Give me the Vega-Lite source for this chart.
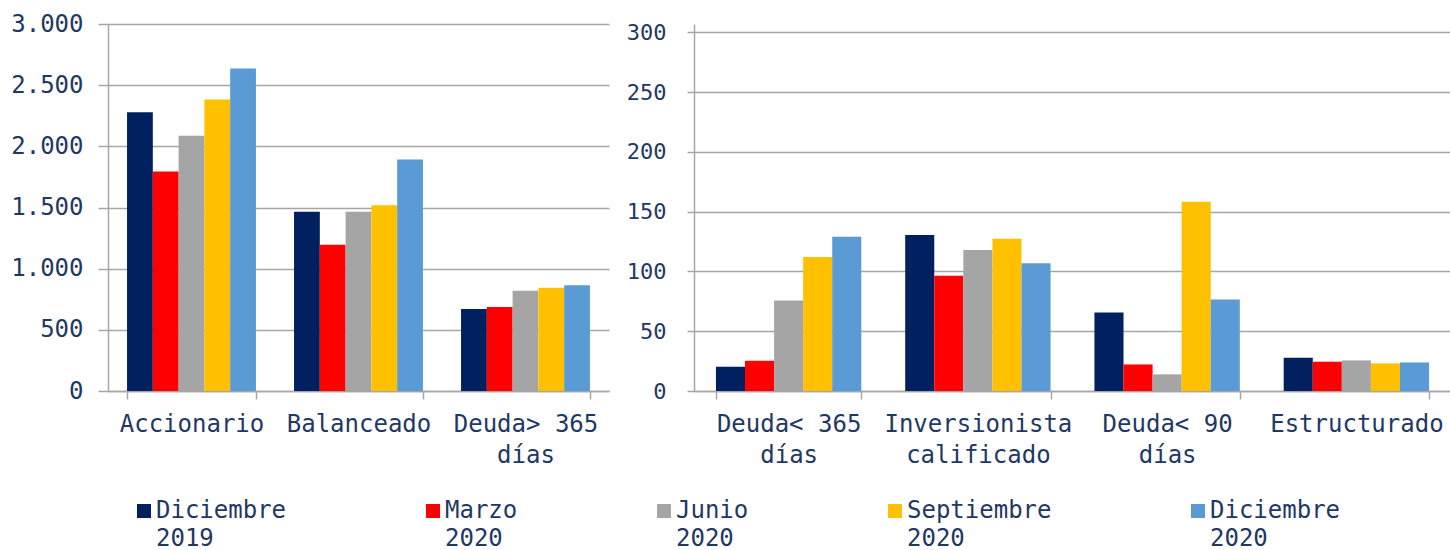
{
  "$schema": "https://vega.github.io/schema/vega-lite/v6.json",
  "padding": {"left": 10, "top": 12, "right": 0, "bottom": 0},
  "background": "white",
  "spacing": 17,
  "datasets": {
    "izq": [
      {"categoria": "Accionario", "serie": "Diciembre 2019", "valor": 2278},
      {"categoria": "Accionario", "serie": "Marzo 2020", "valor": 1794},
      {"categoria": "Accionario", "serie": "Junio 2020", "valor": 2086},
      {"categoria": "Accionario", "serie": "Septiembre 2020", "valor": 2382},
      {"categoria": "Accionario", "serie": "Diciembre 2020", "valor": 2636},
      {"categoria": "Balanceado", "serie": "Diciembre 2019", "valor": 1466},
      {"categoria": "Balanceado", "serie": "Marzo 2020", "valor": 1195},
      {"categoria": "Balanceado", "serie": "Junio 2020", "valor": 1466},
      {"categoria": "Balanceado", "serie": "Septiembre 2020", "valor": 1518},
      {"categoria": "Balanceado", "serie": "Diciembre 2020", "valor": 1892},
      {"categoria": "Deuda> 365 días", "serie": "Diciembre 2019", "valor": 670},
      {"categoria": "Deuda> 365 días", "serie": "Marzo 2020", "valor": 686},
      {"categoria": "Deuda> 365 días", "serie": "Junio 2020", "valor": 820},
      {"categoria": "Deuda> 365 días", "serie": "Septiembre 2020", "valor": 845},
      {"categoria": "Deuda> 365 días", "serie": "Diciembre 2020", "valor": 864}
    ],
    "der": [
      {"categoria": "Deuda< 365 días", "serie": "Diciembre 2019", "valor": 20.3},
      {"categoria": "Deuda< 365 días", "serie": "Marzo 2020", "valor": 25.3},
      {"categoria": "Deuda< 365 días", "serie": "Junio 2020", "valor": 75.6},
      {"categoria": "Deuda< 365 días", "serie": "Septiembre 2020", "valor": 112},
      {"categoria": "Deuda< 365 días", "serie": "Diciembre 2020", "valor": 129},
      {"categoria": "Inversionista calificado", "serie": "Diciembre 2019", "valor": 130.4},
      {"categoria": "Inversionista calificado", "serie": "Marzo 2020", "valor": 96.5},
      {"categoria": "Inversionista calificado", "serie": "Junio 2020", "valor": 117.9},
      {"categoria": "Inversionista calificado", "serie": "Septiembre 2020", "valor": 127.3},
      {"categoria": "Inversionista calificado", "serie": "Diciembre 2020", "valor": 106.8},
      {"categoria": "Deuda< 90 días", "serie": "Diciembre 2019", "valor": 65.6},
      {"categoria": "Deuda< 90 días", "serie": "Marzo 2020", "valor": 22.2},
      {"categoria": "Deuda< 90 días", "serie": "Junio 2020", "valor": 13.9},
      {"categoria": "Deuda< 90 días", "serie": "Septiembre 2020", "valor": 158.4},
      {"categoria": "Deuda< 90 días", "serie": "Diciembre 2020", "valor": 76.5},
      {"categoria": "Estructurado", "serie": "Diciembre 2019", "valor": 27.8},
      {"categoria": "Estructurado", "serie": "Marzo 2020", "valor": 24.5},
      {"categoria": "Estructurado", "serie": "Junio 2020", "valor": 25.6},
      {"categoria": "Estructurado", "serie": "Septiembre 2020", "valor": 23.1},
      {"categoria": "Estructurado", "serie": "Diciembre 2020", "valor": 23.9}
    ]
  },
  "config": {
    "view": {"stroke": null},
    "font": "DejaVu Sans Mono",
    "axis": {
      "labelFont": "DejaVu Sans Mono",
      "labelColor": "#1F3864",
      "gridColor": "#A6A6A6",
      "gridWidth": 1.5,
      "domainColor": "#A6A6A6",
      "domainWidth": 1.5,
      "tickColor": "#A6A6A6",
      "tickWidth": 1.5
    }
  },
  "resolve": {"scale": {"color": "shared", "xOffset": "independent"}, "legend": {"color": "shared"}},
  "hconcat": [
    {
      "width": 501,
      "height": 367,
      "data": {"name": "izq"},
      "mark": {"type": "bar"},
      "encoding": {
        "x": {
          "field": "categoria", "type": "nominal",
          "sort": ["Accionario", "Balanceado", "Deuda> 365 días"],
          "scale": {"paddingInner": 0.228, "paddingOuter": 0.114},
          "axis": {
            "title": null, "labelAngle": 0, "labelFontSize": 24, "labelLineHeight": 31,
            "labelPadding": 13, "tickBand": "extent", "tickSize": 8, "labelLimit": 400,
            "labelOverlap": false,
            "labelExpr": "datum.label == 'Deuda> 365 días' ? ['Deuda> 365', 'días'] : datum.label"
          }
        },
        "xOffset": {
          "field": "serie", "type": "nominal",
          "sort": ["Diciembre 2019", "Marzo 2020", "Junio 2020", "Septiembre 2020", "Diciembre 2020"],
          "scale": {"paddingInner": 0, "paddingOuter": 0}
        },
        "y": {
          "field": "valor", "type": "quantitative",
          "scale": {"domain": [0, 3000], "nice": false},
          "axis": {
            "title": null, "values": [0, 500, 1000, 1500, 2000, 2500, 3000], "grid": true,
            "tickSize": 10, "labelPadding": 15, "labelFontSize": 24,
            "labelExpr": "replace(format(datum.value, ','), ',', '.')"
          }
        },
        "color": {
          "field": "serie", "type": "nominal",
          "scale": {
            "domain": ["Diciembre 2019", "Marzo 2020", "Junio 2020", "Septiembre 2020", "Diciembre 2020"],
            "range": ["#002060", "#FF0000", "#A5A5A5", "#FFC000", "#5B9BD5"]
          },
          "legend": {
            "orient": "none", "legendX": 24, "legendY": 475,
            "direction": "horizontal", "columns": 5, "columnPadding": 134,
            "symbolType": "square", "symbolSize": 196, "symbolStrokeWidth": 0,
            "labelFont": "DejaVu Sans Mono", "labelFontSize": 24, "labelColor": "#1F3864",
            "labelOffset": 0, "labelLimit": 400, "title": null, "labelBaseline": "middle",
            "labelExpr": "split(datum.label, ' ')",
            "encode": {"labels": {"update": {"lineHeight": {"value": 28}}}}
          }
        }
      }
    },
    {
      "width": 757,
      "height": 367,
      "data": {"name": "der"},
      "mark": {"type": "bar"},
      "encoding": {
        "x": {
          "field": "categoria", "type": "nominal",
          "sort": ["Deuda< 365 días", "Inversionista calificado", "Deuda< 90 días", "Estructurado"],
          "scale": {"paddingInner": 0.232, "paddingOuter": 0.116},
          "axis": {
            "title": null, "labelAngle": 0, "labelFontSize": 24, "labelLineHeight": 31,
            "labelPadding": 13, "tickBand": "extent", "tickSize": 8, "labelLimit": 400,
            "labelOverlap": false,
            "labelExpr": "datum.label == 'Deuda< 365 días' ? ['Deuda< 365', 'días'] : datum.label == 'Deuda< 90 días' ? ['Deuda< 90', 'días'] : datum.label == 'Inversionista calificado' ? ['Inversionista', 'calificado'] : datum.label"
          }
        },
        "xOffset": {
          "field": "serie", "type": "nominal",
          "sort": ["Diciembre 2019", "Marzo 2020", "Junio 2020", "Septiembre 2020", "Diciembre 2020"],
          "scale": {"paddingInner": 0, "paddingOuter": 0}
        },
        "y": {
          "field": "valor", "type": "quantitative",
          "scale": {"domain": [0, 307], "nice": false},
          "axis": {
            "title": null, "values": [0, 50, 100, 150, 200, 250, 300], "grid": true,
            "tickSize": 7, "labelPadding": 21, "labelFontSize": 22
          }
        },
        "color": {
          "field": "serie", "type": "nominal",
          "scale": {
            "domain": ["Diciembre 2019", "Marzo 2020", "Junio 2020", "Septiembre 2020", "Diciembre 2020"],
            "range": ["#002060", "#FF0000", "#A5A5A5", "#FFC000", "#5B9BD5"]
          },
          "legend": {
            "orient": "none", "legendX": 24, "legendY": 475,
            "direction": "horizontal", "columns": 5, "columnPadding": 134,
            "symbolType": "square", "symbolSize": 196, "symbolStrokeWidth": 0,
            "labelFont": "DejaVu Sans Mono", "labelFontSize": 24, "labelColor": "#1F3864",
            "labelOffset": 0, "labelLimit": 400, "title": null, "labelBaseline": "middle",
            "labelExpr": "split(datum.label, ' ')",
            "encode": {"labels": {"update": {"lineHeight": {"value": 28}}}}
          }
        }
      }
    }
  ]
}
